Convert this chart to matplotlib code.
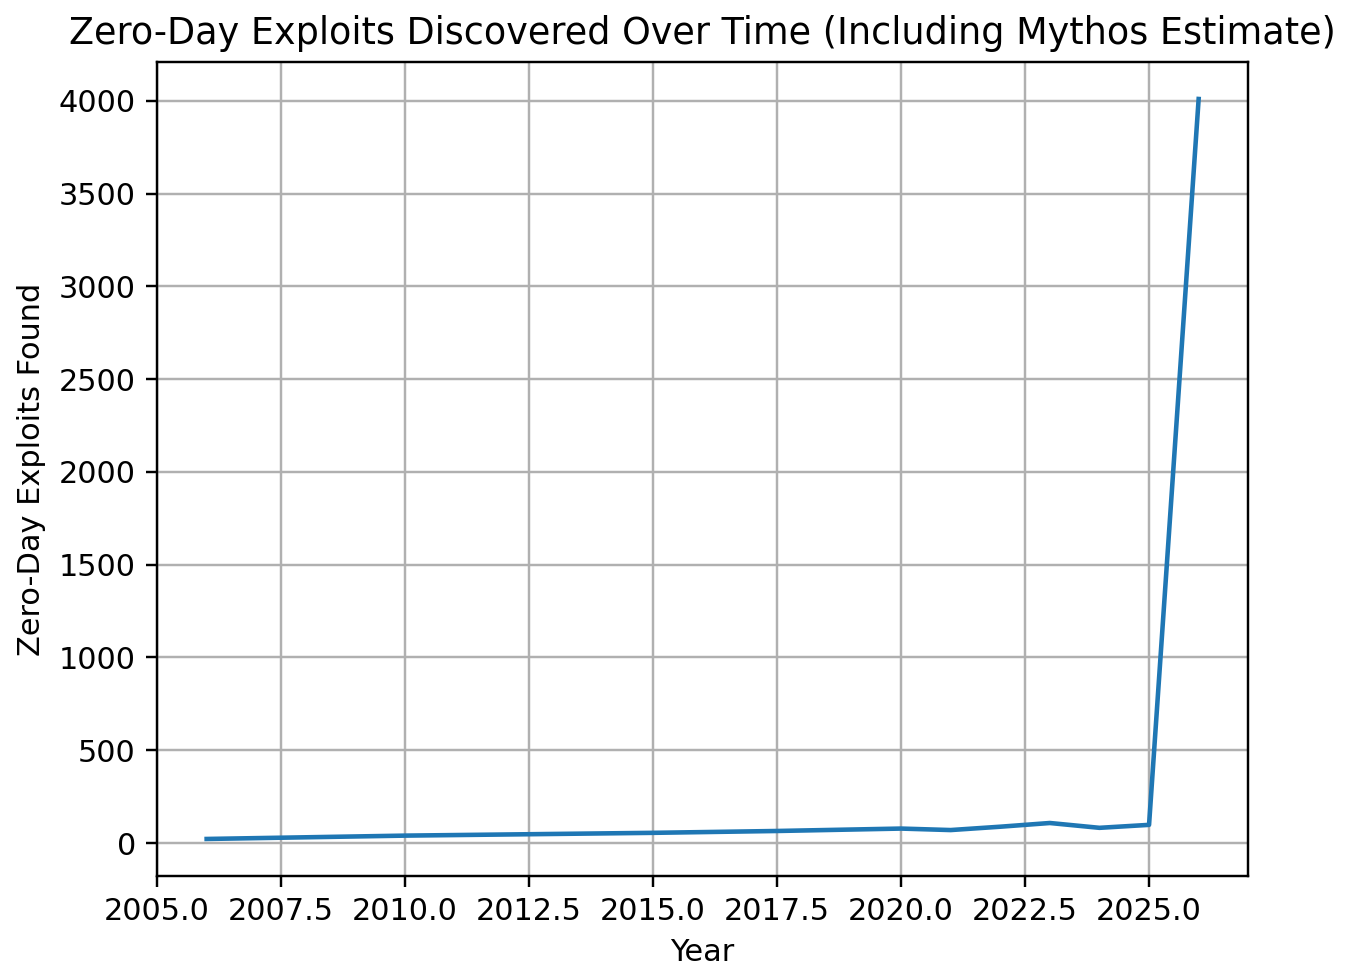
import matplotlib
matplotlib.use('Agg')
import matplotlib.pyplot as plt

# Dados
years = [2006, 2010, 2015, 2017.5, 2020, 2021, 2022, 2023, 2024, 2025, 2026]
exploits = [22, 40, 55, 65, 78, 70, 88, 108, 82, 98, 4010]

DPI = 219
fig = plt.figure(figsize=(1348 / DPI, 976 / DPI), dpi=DPI)
ax = fig.add_axes([0.1165, 0.1025, 0.8095, 0.834])
ax.plot(years, exploits)
ax.set_title('Zero-Day Exploits Discovered Over Time (Including Mythos Estimate)')
ax.set_xlabel('Year')
ax.set_ylabel('Zero-Day Exploits Found')
ax.grid(True)

fig.savefig('out.png', dpi=DPI)
